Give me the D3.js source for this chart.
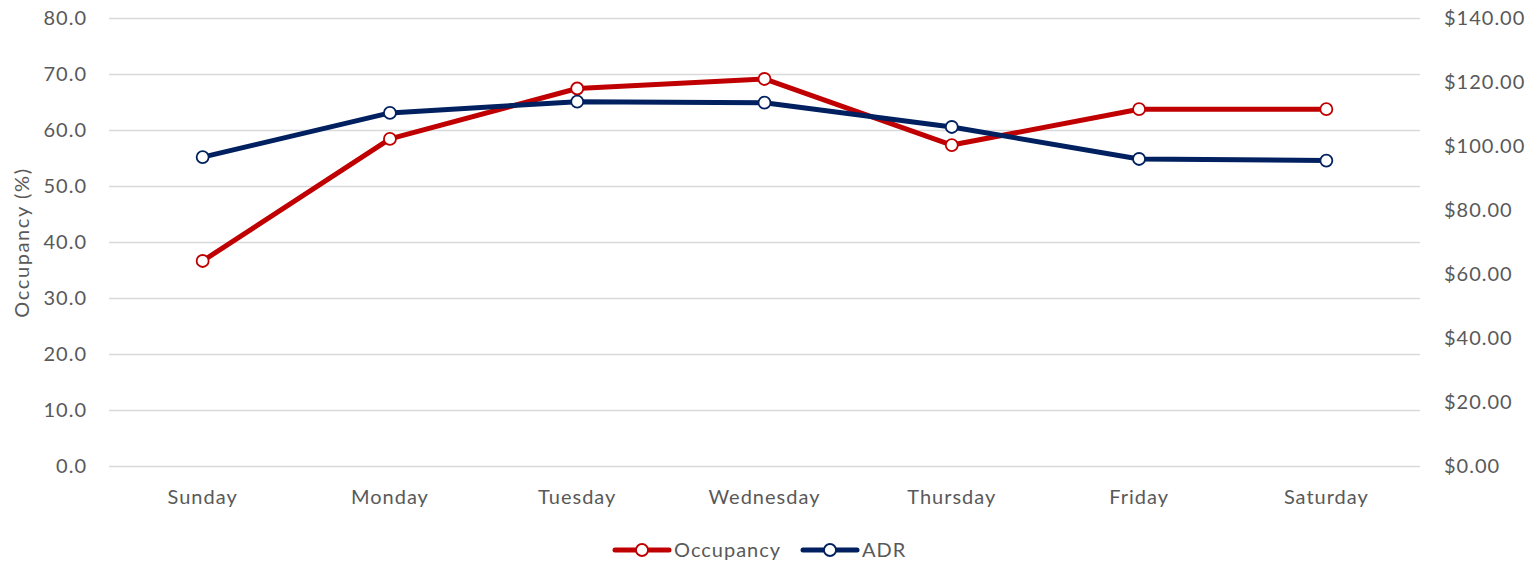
<!DOCTYPE html>
<html>
<head>
<meta charset="utf-8">
<script src="https://cdn.jsdelivr.net/npm/d3@7"></script>
<style>
  html, body { margin: 0; padding: 0; background: #fff; }
  svg text { font-family: Lato, "Open Sans", sans-serif; fill: #595959; letter-spacing: 1px; }
</style>
</head>
<body>
<svg id="chart" width="1537" height="568"></svg>
<script>
// Weekly hotel performance: occupancy (left axis) and average daily rate (right axis)
const days = ["Sunday", "Monday", "Tuesday", "Wednesday", "Thursday", "Friday", "Saturday"];
const occupancy = [36.7, 58.5, 67.5, 69.2, 57.4, 63.8, 63.8];
const adr = [96.7, 110.5, 114.0, 113.7, 106.1, 96.1, 95.6];
const occTicks = [0, 10, 20, 30, 40, 50, 60, 70, 80];
const adrTicks = [0, 20, 40, 60, 80, 100, 120, 140];

const svg = d3.select("#chart");
const plot = { left: 109, right: 1420, top: 18.5, bottom: 466.5 };
const fontSize = "20px";

const x = d3.scaleBand().domain(days).range([plot.left, plot.right]);
const yOcc = d3.scaleLinear().domain([0, 80]).range([plot.bottom, plot.top]);
const yAdr = d3.scaleLinear().domain([0, 140]).range([plot.bottom, plot.top]);

// Gridlines
svg.append("g").selectAll("line").data(occTicks).join("line")
  .attr("x1", plot.left).attr("x2", plot.right)
  .attr("y1", d => yOcc(d)).attr("y2", d => yOcc(d))
  .attr("stroke", "#d9d9d9").attr("stroke-width", 1.5);

// Left axis
const leftAxis = svg.append("g").attr("transform", `translate(${plot.left},0)`)
  .call(d3.axisLeft(yOcc).tickValues(occTicks).tickFormat(d3.format(".1f")).tickSize(0).tickPadding(22));
leftAxis.select(".domain").remove();
leftAxis.selectAll("text").style("font-size", fontSize).attr("fill", "#595959").attr("font-family", "Lato");

// Right axis
const rightAxis = svg.append("g").attr("transform", `translate(${plot.right},0)`)
  .call(d3.axisRight(yAdr).tickValues(adrTicks).tickFormat(d => "$" + d3.format(".2f")(d)).tickSize(0).tickPadding(24));
rightAxis.select(".domain").remove();
rightAxis.selectAll("text").style("font-size", fontSize).attr("fill", "#595959").attr("font-family", "Lato");

// Bottom axis
const bottomAxis = svg.append("g").attr("transform", `translate(0,${plot.bottom})`)
  .call(d3.axisBottom(x).tickSize(0).tickPadding(23));
bottomAxis.select(".domain").remove();
bottomAxis.selectAll("text").style("font-size", fontSize).attr("fill", "#595959").attr("font-family", "Lato");

// Left axis title
svg.append("text")
  .attr("transform", `translate(29,${(plot.top + plot.bottom) / 2}) rotate(-90)`)
  .attr("text-anchor", "middle")
  .style("font-size", fontSize)
  .style("letter-spacing", "1.6px")
  .text("Occupancy (%)");

const cx = d => x(d) + x.bandwidth() / 2;

const series = [
  { name: "Occupancy", values: occupancy, scale: yOcc, color: "#C00000" },
  { name: "ADR", values: adr, scale: yAdr, color: "#002060" }
];

series.forEach(s => {
  const line = d3.line().x((d, i) => cx(days[i])).y(d => s.scale(d));
  svg.append("path").datum(s.values)
    .attr("d", line).attr("fill", "none")
    .attr("stroke", s.color).attr("stroke-width", 5)
    .attr("stroke-linejoin", "round");
  svg.append("g").selectAll("circle").data(s.values).join("circle")
    .attr("cx", (d, i) => cx(days[i])).attr("cy", d => s.scale(d))
    .attr("r", 6).attr("fill", "#fff")
    .attr("stroke", s.color).attr("stroke-width", 1.8);
});

// Legend
const legendY = 550;
const legendItems = [
  { name: "Occupancy", color: "#C00000", x: 615 },
  { name: "ADR", color: "#002060", x: 803 }
];
legendItems.forEach(l => {
  const g = svg.append("g").attr("transform", `translate(${l.x},${legendY})`);
  g.append("line").attr("x1", 0).attr("x2", 54).attr("y1", 0).attr("y2", 0)
    .attr("stroke", l.color).attr("stroke-width", 5).attr("stroke-linecap", "round");
  g.append("circle").attr("cx", 27).attr("cy", 0).attr("r", 6)
    .attr("fill", "#fff").attr("stroke", l.color).attr("stroke-width", 1.8);
  g.append("text").attr("x", 59).attr("y", 0).attr("dy", "0.35em")
    .style("font-size", fontSize).text(l.name);
});
</script>
</body>
</html>
